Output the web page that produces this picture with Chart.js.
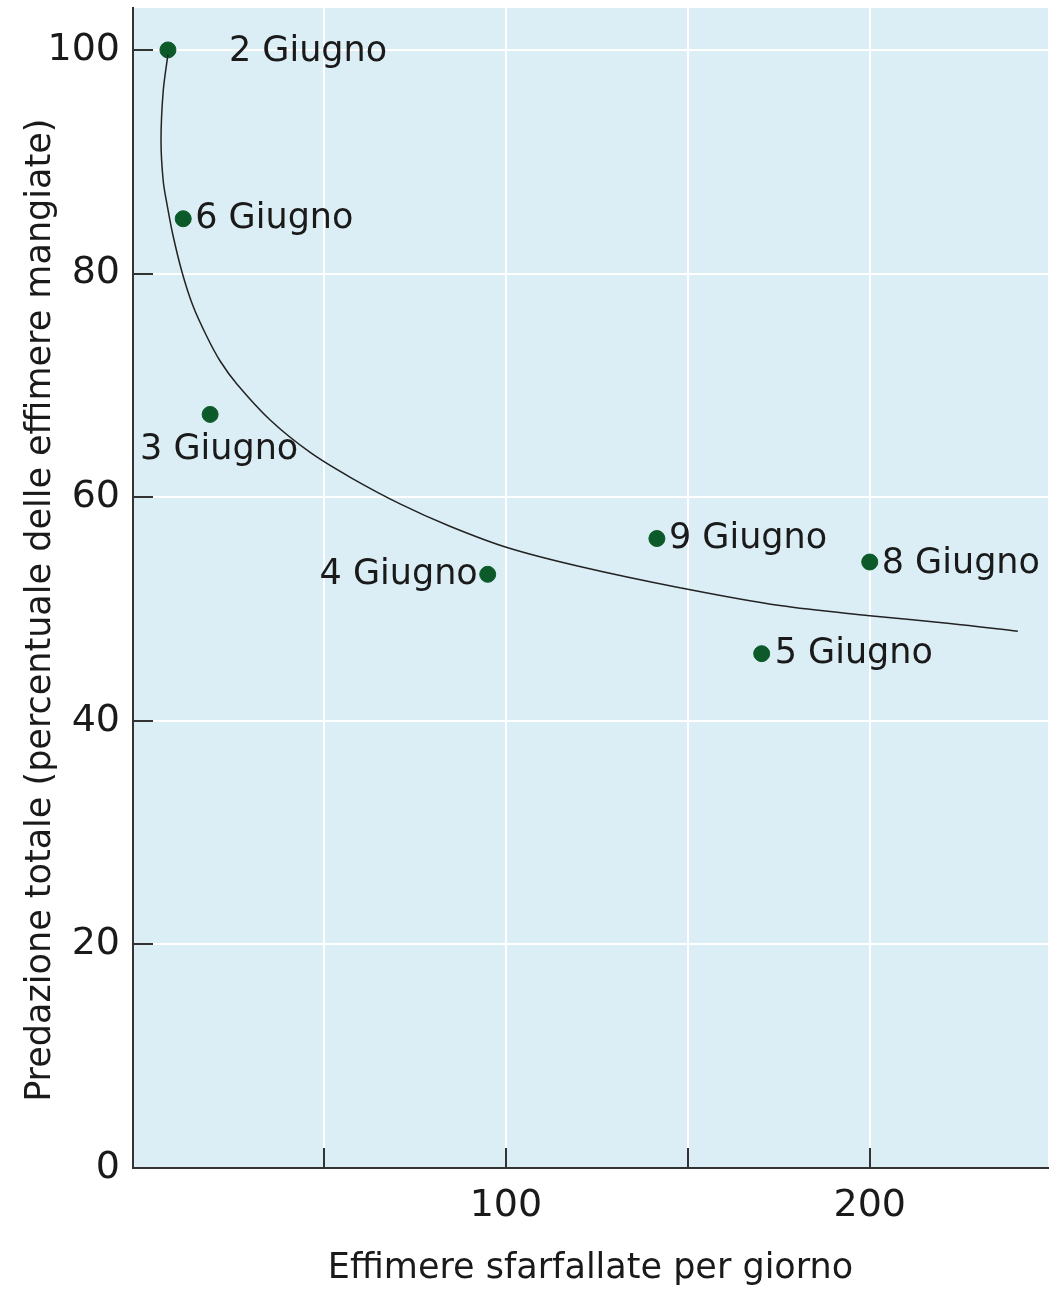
<!DOCTYPE html>
<html>
<head>
<meta charset="utf-8">
<script src="https://cdn.jsdelivr.net/npm/chart.js@4.4.0/dist/chart.umd.min.js"></script>
<style>
  body { margin: 0; background: #fff; }
  #chart { display: block; }
</style>
</head>
<body>
<canvas id="chart" width="1050" height="1291"></canvas>
<script>
// observed days
const dates = ['2 Giugno', '3 Giugno', '4 Giugno', '5 Giugno', '6 Giugno', '8 Giugno', '9 Giugno'];
const emerged = [7.1, 18.7, 95, 170.3, 11.3, 200, 141.5];
const predation = [100, 67.4, 53.1, 46.0, 84.9, 54.2, 56.3];

// fitted curve
const curveX = [7.1, 5.8, 5.2, 5.8, 6.9, 8.5, 11.0, 14.0, 17.9, 21.4, 26.1, 35.2, 46.2, 57.1, 70.9, 84.6, 100.3, 120.3, 147.8, 175.3, 200, 222, 240.7];
const curveY = [99.6, 96.3, 91.9, 88.3, 86.1, 83.4, 80.1, 77.1, 74.3, 72.2, 70.1, 66.9, 64.0, 61.8, 59.4, 57.4, 55.5, 53.8, 51.9, 50.3, 49.4, 48.7, 48.0];

// axis ticks
const xTicks = [50, 100, 150, 200];
const xLabelled = [100, 200];
const yTicks = [0, 20, 40, 60, 80, 100];

// where each label sits relative to its point
const labelPlacement = {
  '2 Giugno': { dx: 61, dy: 2, align: 'left' },
  '3 Giugno': { dx: 9, dy: 35, align: 'center' },
  '4 Giugno': { dx: -10, dy: 1, align: 'right' },
  '5 Giugno': { dx: 13, dy: 0, align: 'left' },
  '6 Giugno': { dx: 12, dy: 0, align: 'left' },
  '8 Giugno': { dx: 12, dy: 2, align: 'left' },
  '9 Giugno': { dx: 12, dy: 0, align: 'left' }
};

const FONT = '"DejaVu Sans", "Open Sans", sans-serif';
const AXIS = '#333';

const plotBg = {
  id: 'plotBg',
  beforeDraw(chart) {
    const { ctx, chartArea: a } = chart;
    ctx.save();
    ctx.fillStyle = '#dbeef5';
    ctx.fillRect(a.left, a.top, a.right - a.left, a.bottom - a.top);
    ctx.restore();
  }
};

// tick marks point into the plot
const innerTicks = {
  id: 'innerTicks',
  afterDatasetsDraw(chart) {
    const { ctx, chartArea: a, scales } = chart;
    ctx.save();
    ctx.strokeStyle = AXIS;
    ctx.lineWidth = 2;
    ctx.beginPath();
    yTicks.filter(v => v > 0).forEach(v => {
      const y = Math.round(scales.y.getPixelForValue(v));
      ctx.moveTo(a.left, y);
      ctx.lineTo(a.left + 20, y);
    });
    xTicks.forEach(v => {
      const x = Math.round(scales.x.getPixelForValue(v));
      ctx.moveTo(x, a.bottom);
      ctx.lineTo(x, a.bottom - 20);
    });
    ctx.stroke();
    ctx.restore();
  }
};

const pointLabels = {
  id: 'pointLabels',
  afterDatasetsDraw(chart) {
    const { ctx } = chart;
    const meta = chart.getDatasetMeta(1);
    ctx.save();
    ctx.font = '35px ' + FONT;
    ctx.fillStyle = '#1a1a1a';
    ctx.textBaseline = 'middle';
    meta.data.forEach((pt, i) => {
      const p = labelPlacement[dates[i]];
      ctx.textAlign = p.align;
      ctx.fillText(dates[i], pt.x + p.dx, pt.y + p.dy);
    });
    ctx.restore();
  }
};

new Chart(document.getElementById('chart'), {
  type: 'scatter',
  data: {
    datasets: [
      {
        type: 'line',
        data: curveX.map((x, i) => ({ x: x, y: curveY[i] })),
        borderColor: '#222',
        borderWidth: 1.5,
        pointRadius: 0,
        tension: 0.35,
        fill: false
      },
      {
        data: emerged.map((x, i) => ({ x: x, y: predation[i] })),
        backgroundColor: '#0c5a2a',
        borderColor: '#0c5a2a',
        pointRadius: 8,
        pointHoverRadius: 8
      }
    ]
  },
  options: {
    responsive: false,
    animation: false,
    layout: { autoPadding: false, padding: { top: 8, right: 2, left: 0, bottom: 0 } },
    plugins: { legend: { display: false }, tooltip: { enabled: false } },
    scales: {
      x: {
        type: 'linear',
        min: -2.5,
        max: 249,
        afterBuildTicks: s => { s.ticks = xTicks.map(v => ({ value: v })); },
        afterFit: s => { s.height = 123; s.paddingLeft = 0; s.paddingRight = 0; },
        grid: { color: '#fff', lineWidth: 2, drawTicks: false },
        border: { color: AXIS, width: 2 },
        ticks: {
          padding: 15,
          color: '#1a1a1a',
          font: { family: FONT, size: 38 },
          maxRotation: 0,
          callback: v => xLabelled.includes(v) ? String(v) : ''
        },
        title: {
          display: true,
          text: 'Effimere sfarfallate per giorno',
          color: '#1a1a1a',
          font: { family: FONT, size: 35 },
          padding: { top: 0, bottom: 1 }
        }
      },
      y: {
        type: 'linear',
        min: 0,
        max: 103.75,
        afterBuildTicks: s => { s.ticks = yTicks.map(v => ({ value: v })); },
        afterFit: s => { s.width = 133; s.paddingTop = 0; s.paddingBottom = 0; },
        grid: {
          color: c => c.tick && c.tick.value === 0 ? 'rgba(0,0,0,0)' : '#fff',
          lineWidth: 2,
          drawTicks: false
        },
        border: { color: AXIS, width: 2 },
        ticks: {
          padding: 13,
          color: '#1a1a1a',
          font: { family: FONT, size: 38 }
        },
        title: {
          display: true,
          text: 'Predazione totale (percentuale delle effimere mangiate)    ',
          color: '#1a1a1a',
          font: { family: FONT, size: 35 },
          padding: { top: 20, bottom: 0 }
        }
      }
    }
  },
  plugins: [plotBg, innerTicks, pointLabels]
});
</script>
</body>
</html>
